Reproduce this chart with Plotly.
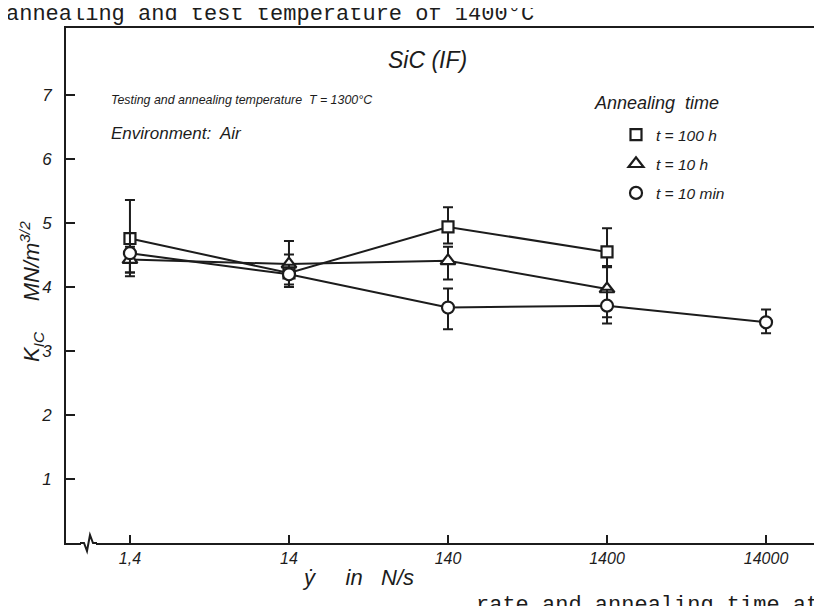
import plotly.graph_objects as go

# ---- data ----
rate_ticks = [1.4, 14, 140, 1400, 14000]
rate_tick_text = ["1,4", "14", "140", "1400", "14000"]
k_ticks = [1, 2, 3, 4, 5, 6, 7]

x_100h = [1.4, 14, 140, 1400]
k_100h = [4.76, 4.22, 4.94, 4.55]
k_100h_plus = [0.60, 0.50, 0.31, 0.37]
k_100h_minus = [0.53, 0.18, 0.26, 0.22]

x_10h = [1.4, 14, 140, 1400]
k_10h = [4.43, 4.36, 4.41, 3.97]
k_10h_plus = [0.20, 0.15, 0.22, 0.34]
k_10h_minus = [0.26, 0.20, 0.29, 0.44]

x_10min = [1.4, 14, 140, 1400, 14000]
k_10min = [4.53, 4.20, 3.68, 3.71, 3.45]
k_10min_plus = [0.31, 0.15, 0.30, 0.25, 0.20]
k_10min_minus = [0.30, 0.20, 0.34, 0.28, 0.17]

series = [
    ("<i>t = 100 h</i>", x_100h, k_100h, k_100h_plus, k_100h_minus, "square", 11),
    ("<i>t = 10 h</i>", x_10h, k_10h, k_10h_plus, k_10h_minus, "triangle-up", 13),
    ("<i>t = 10 min</i>", x_10min, k_10min, k_10min_plus, k_10min_minus, "circle", 12),
]

INK = "#1c1c1c"
SANS = "Liberation Sans"
MONO = "Liberation Mono"

fig = go.Figure()

for name, xs, ys, ep, em, sym, sz in series:
    fig.add_trace(go.Scatter(x=xs, y=ys, mode="lines", showlegend=False,
                             line=dict(color=INK, width=2), hoverinfo="skip"))
for i, (name, xs, ys, ep, em, sym, sz) in enumerate(series):
    fig.add_trace(go.Scatter(
        x=xs, y=ys, mode="markers", name=name, legendgroup=f"g{i}",
        marker=dict(symbol=sym, size=sz, color="white",
                    line=dict(color=INK, width=2.2)),
        error_y=dict(type="data", symmetric=False, array=ep, arrayminus=em,
                     color=INK, thickness=2, width=5),
    ))

# the page's body margin shifts the figure by 8 px; compensate
OFF = 8
# plot-area geometry in screen pixels -> paper helpers
L, R, T, B = 66, 822, 28, 543
W, H = R - L, B - T
def px(xp):
    return (xp - L) / W
def py(yp):
    return (B - yp) / H

annotations = [
    dict(text="<i>SiC (IF)</i>", x=px(427), y=py(60), xanchor="center", yanchor="middle",
         font=dict(family=SANS, size=23, color=INK)),
    dict(text="<i>Testing and annealing temperature  T = 1300°C</i>", x=px(109), y=py(100),
         xanchor="left", yanchor="middle", font=dict(family=SANS, size=12.4, color=INK)),
    dict(text="<i>Environment:  Air</i>", x=px(109), y=py(133),
         xanchor="left", yanchor="middle", font=dict(family=SANS, size=17, color=INK)),
    dict(text="<i>Annealing  time</i>", x=px(592), y=py(103),
         xanchor="left", yanchor="middle", font=dict(family=SANS, size=18, color=INK)),
    dict(text="K<sub>IC</sub>     MN/m<sup>3/2</sup>", x=px(31), y=py(292), textangle=-90,
         xanchor="center", yanchor="middle", font=dict(family=SANS, size=22, color=INK,
                                                       style="italic")),
    dict(text="<i>ẏ     in   N/s</i>", x=px(300), y=py(577), xanchor="left", yanchor="middle",
         font=dict(family=SANS, size=22, color=INK)),
    dict(text="annealing and test temperature of 1400°C", x=px(4), y=py(14),
         xanchor="left", yanchor="middle", font=dict(family=MONO, size=22, color=INK)),
    dict(text="rate and annealing time at", x=px(474), y=py(605),
         xanchor="left", yanchor="middle", font=dict(family=MONO, size=22, color=INK)),
]
for a in annotations:
    a.update(xref="paper", yref="paper", showarrow=False)

shapes = [
    dict(type="line", xref="paper", yref="paper", x0=px(81), x1=px(96), y0=0, y1=0,
         line=dict(color="white", width=5), layer="above"),
    dict(type="path", xref="paper", yref="paper",
         path=f"M {px(80)} 0 L {px(84)} 0 L {px(87)} {py(551)} L {px(90)} {py(535)} "
              f"L {px(93)} 0 L {px(97)} 0",
         line=dict(color=INK, width=2), layer="above"),
]

FIG_W, FIG_H = 822 - OFF, 606 - OFF
fig.update_layout(
    width=FIG_W, height=FIG_H,
    margin=dict(l=L - OFF, r=FIG_W - (R - OFF), t=T - OFF, b=FIG_H - (B - OFF)),
    paper_bgcolor="white", plot_bgcolor="white",
    showlegend=True,
    legend=dict(x=px(616), y=py(118), xanchor="left", yanchor="top",
                font=dict(family=SANS, size=15.5, color=INK),
                bgcolor="rgba(0,0,0,0)", itemwidth=30,
                traceorder="grouped", tracegroupgap=6),
    annotations=annotations,
    shapes=shapes,
    xaxis=dict(type="log", range=[-0.256, 4.498], tickvals=rate_ticks, ticktext=rate_tick_text,
               ticks="inside", ticklen=8, tickwidth=2, tickcolor=INK,
               showline=True, linewidth=2, linecolor=INK, mirror=True,
               showgrid=False, zeroline=False, ticklabelstandoff=0,
               tickfont=dict(family=SANS, size=16, color=INK, style="italic")),
    yaxis=dict(range=[0, 8.05], tickvals=k_ticks,
               ticks="inside", ticklen=9, tickwidth=2, tickcolor=INK,
               showline=True, linewidth=2, linecolor=INK, mirror=False,
               showgrid=False, zeroline=False, ticklabelstandoff=9,
               tickfont=dict(family=SANS, size=17, color=INK, style="italic")),
)

fig.write_html("out.html")
